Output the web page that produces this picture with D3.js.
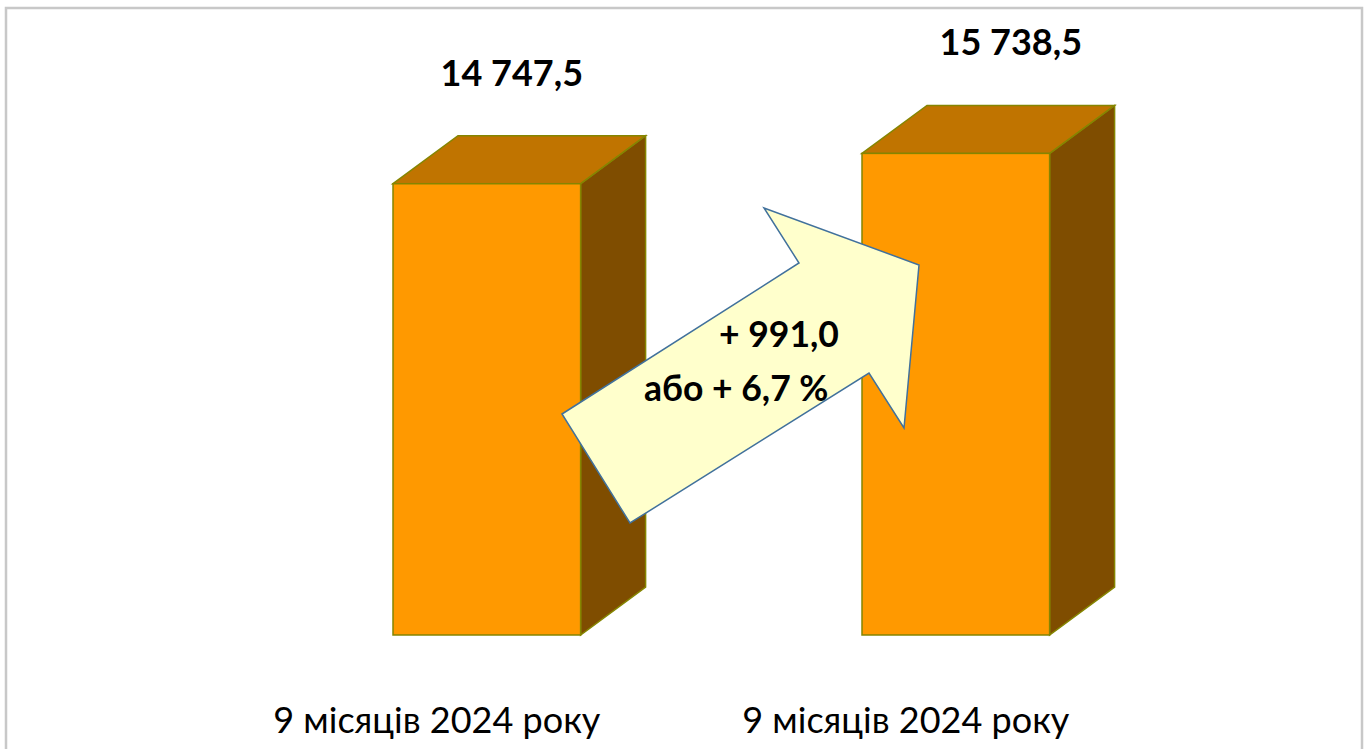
<!DOCTYPE html>
<html>
<head>
<meta charset="utf-8">
<script src="https://cdn.jsdelivr.net/npm/d3@7"></script>
<style>
  body { margin: 0; background: #fff; }
  svg { display: block; }
</style>
</head>
<body>
<svg id="chart" width="1369" height="749"></svg>
<script>
// data
const categories = ['9 місяців 2024 року', '9 місяців 2024 року']
const values = [14747.5, 15738.5]
const valueLabels = ['14 747,5', '15 738,5']
const diffLines = ['+ 991,0', 'або + 6,7 %']

const depthX = 65, depthY = -48   // 3d offset of the box back face
const fontFam = 'Lato, "Open Sans", sans-serif'

let svg = d3.select('#chart')

// chart border (bottom edge runs off the picture)
svg.append('rect')
    .attr('x', 6).attr('y', 8)
    .attr('width', 1356).attr('height', 780)
    .attr('fill', 'none')
    .attr('stroke', '#c8c8c8')
    .attr('stroke-width', 2.5)

let x = d3.scaleBand()
    .domain(d3.range(categories.length))
    .range([111.6, 1331])
    .paddingInner(0.6)
    .paddingOuter(0.6)

let y = d3.scaleLinear()
    .domain([0, 16000])
    .range([635, 145.4])

let bw = x.bandwidth()
let stroke = '#858500'

let barg = svg.selectAll('g.bar')
    .data(values)
    .enter()
    .append('g')
    .attr('class', 'bar')

// side face
barg.append('path')
    .attr('d', (d, i) => {
        let x1 = x(i) + bw, yt = y(d), yb = y(0)
        return 'M' + x1 + ',' + yt + ' L' + (x1 + depthX) + ',' + (yt + depthY) +
            ' L' + (x1 + depthX) + ',' + (yb + depthY) + ' L' + x1 + ',' + yb + 'Z'
    })
    .attr('fill', '#7f4d00')
    .attr('stroke', stroke).attr('stroke-width', 1.5)

// top face
barg.append('path')
    .attr('d', (d, i) => {
        let x0 = x(i), yt = y(d)
        return 'M' + x0 + ',' + yt + ' L' + (x0 + depthX) + ',' + (yt + depthY) +
            ' L' + (x0 + bw + depthX) + ',' + (yt + depthY) + ' L' + (x0 + bw) + ',' + yt + 'Z'
    })
    .attr('fill', '#c07400')
    .attr('stroke', stroke).attr('stroke-width', 1.5)

// front face
barg.append('rect')
    .attr('x', (d, i) => x(i))
    .attr('y', d => y(d))
    .attr('width', bw)
    .attr('height', d => y(0) - y(d))
    .attr('fill', '#ff9900')
    .attr('stroke', stroke).attr('stroke-width', 1.5)

// value labels above each box
let labelShift = [25, 55]
barg.append('text')
    .attr('x', (d, i) => x(i) + bw / 2 + labelShift[i])
    .attr('y', d => y(d) - 98)
    .attr('text-anchor', 'middle')
    .attr('font-family', fontFam)
    .attr('font-weight', 'bold')
    .attr('font-size', 36)
    .attr('fill', '#000')
    .text((d, i) => valueLabels[i])

// category labels
svg.selectAll('text.cat')
    .data(categories)
    .enter()
    .append('text')
    .attr('class', 'cat')
    .attr('x', (d, i) => x(i) + bw / 2 - 50)
    .attr('y', 733)
    .attr('text-anchor', 'middle')
    .attr('font-family', fontFam)
    .attr('font-size', 36)
    .attr('fill', '#000')
    .text(d => d)

// growth arrow from first box to second
let arrowPts = [[562, 414], [799, 263], [764, 208], [919, 265], [904, 428], [869, 373], [630, 523]]
svg.append('path')
    .attr('d', d3.line()(arrowPts) + 'Z')
    .attr('fill', '#ffffcc')
    .attr('stroke', '#41719c')
    .attr('stroke-width', 1.5)

let diffX = [719, 644], diffY = [347, 401]
svg.selectAll('text.diff')
    .data(diffLines)
    .enter()
    .append('text')
    .attr('class', 'diff')
    .attr('x', (d, i) => diffX[i])
    .attr('y', (d, i) => diffY[i])
    .attr('font-family', fontFam)
    .attr('font-weight', 'bold')
    .attr('font-size', 35.5)
    .attr('fill', '#000')
    .text(d => d)
</script>
</body>
</html>
